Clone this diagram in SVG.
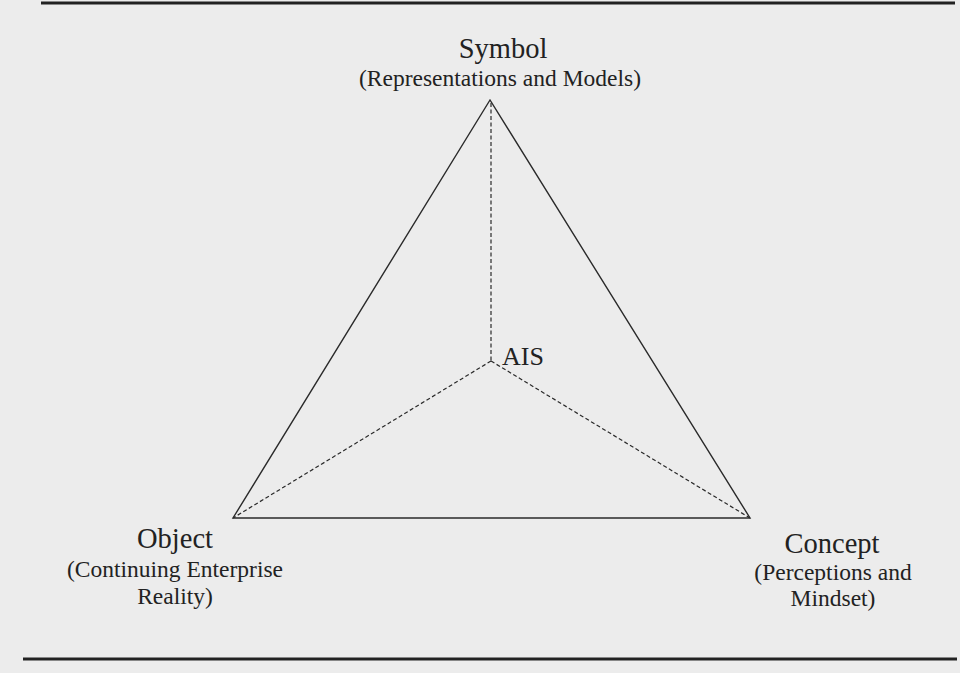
<svg xmlns="http://www.w3.org/2000/svg" width="960" height="673" viewBox="0 0 960 673">
<style>
.t{font-family:"Liberation Serif","Times New Roman",serif;fill:#222;text-anchor:middle}
.big{font-size:28.5px}
.sm{font-size:23.5px}
.solid{stroke:#2a2a2a;stroke-width:1.4;fill:none}
.dash{stroke:#2a2a2a;stroke-width:1.2;fill:none;stroke-dasharray:4 2.5}
.rule{stroke:#222;stroke-width:3}
</style>
<rect width="960" height="673" fill="#ececec"/>
<line class="rule" x1="41" y1="3" x2="955" y2="3"/>
<line class="rule" x1="23" y1="659" x2="957" y2="659"/>
<g id="connectors">
<path class="solid" d="M490,100 L233,518 L750,518 Z"/>
<path class="dash" d="M491,103 L491,361"/>
<path class="dash" d="M491,361 L233,518"/>
<path class="dash" d="M491,361 L750,518"/>
</g>
<g id="symbol">
<text class="t big" x="503" y="58">Symbol</text>
<text class="t sm" x="500" y="86">(Representations and Models)</text>
</g>
<g id="ais">
<text class="t" style="font-size:26px;text-anchor:start" x="502" y="365">AIS</text>
</g>
<g id="object">
<text class="t big" x="175" y="548">Object</text>
<text class="t sm" x="175" y="577">(Continuing Enterprise</text>
<text class="t sm" x="175" y="604">Reality)</text>
</g>
<g id="concept">
<text class="t big" x="832" y="553">Concept</text>
<text class="t sm" x="833" y="580">(Perceptions and</text>
<text class="t sm" x="833" y="606">Mindset)</text>
</g>
</svg>
